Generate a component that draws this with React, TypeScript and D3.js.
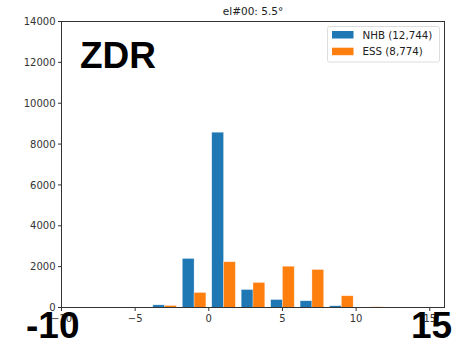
import React from "react";
import * as d3 from "d3";

const binEdges = [-4, -2, 0, 2, 4, 6, 8, 10];
const nhbCounts = [130, 2400, 8580, 880, 390, 330, 85, 0];
const essCounts = [100, 735, 2240, 1225, 2020, 1860, 575, 35];
const seriesNames = ["NHB (12,744)", "ESS (8,774)"];
const seriesColors = ["#1f77b4", "#ff7f0e"];
const xTicks = [-10, -5, 0, 5, 10, 15];
const yTicks = [0, 2000, 4000, 6000, 8000, 10000, 12000, 14000];
const binWidth = 2;

export default function App() {
  const W = 469, H = 341;
  const left = 61.5, right = 444.5, top = 21.5, bottom = 307.5;
  const x = d3.scaleLinear().domain([-10, 16]).range([left, right]);
  const y = d3.scaleLinear().domain([0, 14000]).range([bottom, top]);
  const font = "DejaVu Sans, sans-serif";
  const series = [nhbCounts, essCounts];
  const barW = (binWidth * 0.8) / 2;
  return (
    <div style={{ position: "absolute", left: 0, top: 0 }}>
      <svg width={W} height={H} style={{ display: "block", background: "#fff" }}>
        {series.map((vals, si) =>
          vals.map((v, i) => {
            if (v <= 0) return null;
            const x0 = binEdges[i] + binWidth * 0.1 + si * barW;
            return (
              <rect
                key={`${si}-${i}`}
                x={x(x0)}
                y={y(v)}
                width={x(x0 + barW) - x(x0)}
                height={y(0) - y(v)}
                fill={seriesColors[si]}
                stroke="#ffffff"
                strokeOpacity={0.5}
                strokeWidth={0.6}
              />
            );
          })
        )}
        <rect x={left} y={top} width={right - left} height={bottom - top} fill="none" stroke="#333" strokeWidth={1} />
        {xTicks.map((t) => (
          <g key={t}>
            <line x1={x(t)} x2={x(t)} y1={bottom} y2={bottom + 3.5} stroke="#333" />
            <text x={x(t)} y={bottom + 14} textAnchor="middle" fontFamily={font} fontSize={10} fill="#333">
              {t < 0 ? "\u2212" + Math.abs(t) : t}
            </text>
          </g>
        ))}
        {yTicks.map((t) => (
          <g key={t}>
            <line x1={left - 3.5} x2={left} y1={y(t)} y2={y(t)} stroke="#333" />
            <text x={left - 6} y={y(t) + 3.6} textAnchor="end" fontFamily={font} fontSize={10} fill="#333">
              {t}
            </text>
          </g>
        ))}
        <text x={(left + right) / 2} y={15} textAnchor="middle" fontFamily={font} fontSize={10.5} fill="#222">
          el#00: 5.5°
        </text>
        <g>
          <rect x={327.5} y={26.5} width={112} height={35.5} rx={2} fill="#fff" fillOpacity={0.8} stroke="#ddd" />
          {seriesNames.map((n, i) => (
            <g key={n}>
              <rect x={332} y={31 + i * 16.7} width={21.5} height={7.5} fill={seriesColors[i]} />
              <text x={362.5} y={38.6 + i * 16.7} fontFamily={font} fontSize={10.3} fill="#222">
                {n}
              </text>
            </g>
          ))}
        </g>
        <text x={80} y={67.5} fontFamily="Liberation Sans, Arial, sans-serif" fontWeight="bold" fontSize={37} fill="#000">
          ZDR
        </text>
        <text x={26} y={338} fontFamily="Liberation Sans, Arial, sans-serif" fontWeight="bold" fontSize={37} fill="#000">
          -10
        </text>
        <text x={411} y={338} fontFamily="Liberation Sans, Arial, sans-serif" fontWeight="bold" fontSize={37} fill="#000">
          15
        </text>
      </svg>
    </div>
  );
}
